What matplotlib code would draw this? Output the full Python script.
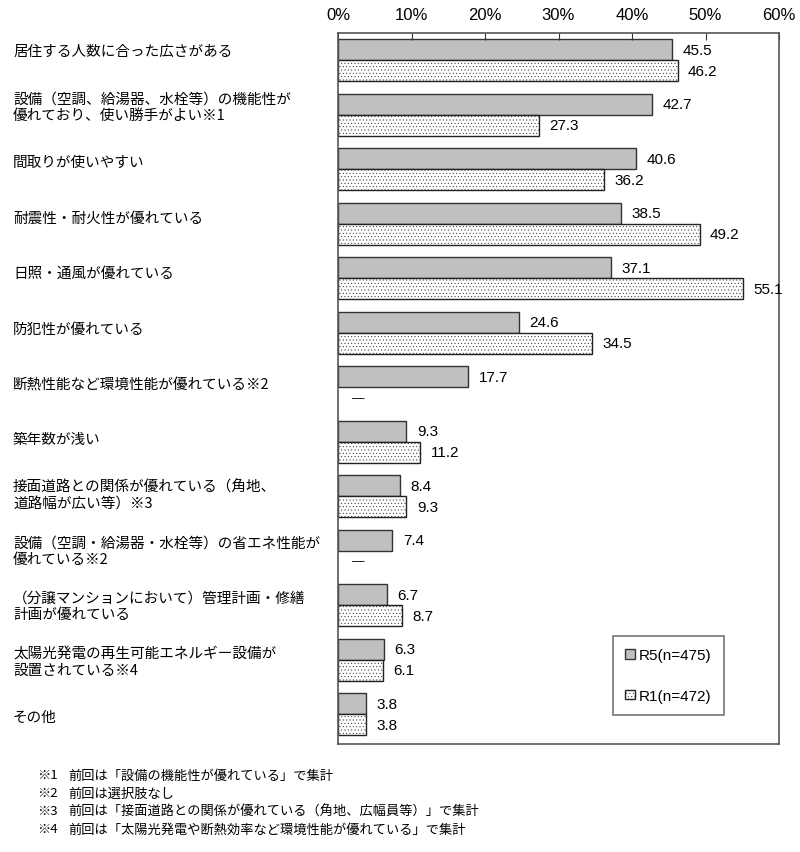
import numpy as np
import matplotlib
matplotlib.use("agg")
import matplotlib.pyplot as plt

plt.rcParams["font.family"] = ["Noto Sans CJK JP", "DejaVu Sans"]
plt.rcParams["hatch.linewidth"] = 0.3
plt.rcParams["hatch.color"] = "#222222"

categories = [
    "居住する人数に合った広さがある",
    "設備（空調、給湯器、水栓等）の機能性が\n優れており、使い勝手がよい※1",
    "間取りが使いやすい",
    "耐震性・耐火性が優れている",
    "日照・通風が優れている",
    "防犯性が優れている",
    "断熱性能など環境性能が優れている※2",
    "築年数が浅い",
    "接面道路との関係が優れている（角地、\n道路幅が広い等）※3",
    "設備（空調・給湯器・水栓等）の省エネ性能が\n優れている※2",
    "（分譲マンションにおいて）管理計画・修繕\n計画が優れている",
    "太陽光発電の再生可能エネルギー設備が\n設置されている※4",
    "その他",
]
r5 = [45.5, 42.7, 40.6, 38.5, 37.1, 24.6, 17.7, 9.3, 8.4, 7.4, 6.7, 6.3, 3.8]
r1 = [46.2, 27.3, 36.2, 49.2, 55.1, 34.5, None, 11.2, 9.3, None, 8.7, 6.1, 3.8]
series_names = ["R5(n=475)", "R1(n=472)"]
xticks = [0, 10, 20, 30, 40, 50, 60]

footnotes = [
    ("※1", "前回は「設備の機能性が優れている」で集計"),
    ("※2", "前回は選択肢なし"),
    ("※3", "前回は「接面道路との関係が優れている（角地、広幅員等）」で集計"),
    ("※4", "前回は「太陽光発電や断熱効率など環境性能が優れている」で集計"),
]

W, H = 800, 853
fig = plt.figure(figsize=(W / 100, H / 100), dpi=100)
ax = fig.add_axes([338 / W, 1 - 745 / H, (779 - 338) / W, (745 - 34) / H])

y = np.arange(len(categories))
bh = 0.385
r1_vals = [v if v is not None else 0 for v in r1]

bars5 = ax.barh(y - bh / 2, r5, height=bh, color="#c0c0c0", edgecolor="#333333",
                linewidth=1.0, label=series_names[0])
bars1 = ax.barh(y + bh / 2, r1_vals, height=bh, color="white", edgecolor="#222222",
                linewidth=1.0, hatch=".....", label=series_names[1])
for b, v in zip(bars1, r1):
    if v is None:
        b.set_visible(False)

num_font = "Liberation Sans"
for i, v in enumerate(r5):
    ax.annotate(f"{v:.1f}", (v, y[i] - bh / 2), xytext=(7.5, 0), textcoords="offset points",
                va="center", ha="left", fontsize=11, family=num_font)
for i, v in enumerate(r1):
    if v is None:
        ax.annotate("—", (0, y[i] + bh / 2), xytext=(10, 0), textcoords="offset points",
                    va="center", ha="left", fontsize=9, family=num_font)
    else:
        ax.annotate(f"{v:.1f}", (v, y[i] + bh / 2), xytext=(7.5, 0), textcoords="offset points",
                    va="center", ha="left", fontsize=11, family=num_font)

ax.set_xlim(0, 60)
ax.set_ylim(len(categories) - 0.45, -0.5)
ax.set_xticks(xticks)
ax.set_xticklabels([f"{t}%" for t in xticks], family=num_font, fontsize=12)
ax.xaxis.set_ticks_position("top")
ax.tick_params(axis="x", direction="in", length=5, pad=8, color="#333333")
ax.set_yticks([])
for s in ax.spines.values():
    s.set_color("#555555")
    s.set_linewidth(1.2)

# category labels on the left
for i, c in enumerate(categories):
    fig.text(13 / W, 1 - (52 + 55.5 * i) / H, c, ha="left", va="center",
             fontsize=10.5, linespacing=1.25)

leg = ax.legend(loc="upper left", bbox_to_anchor=(0.624, 0.152), borderaxespad=0,
                handlelength=0.6, handleheight=0.6, handletextpad=0.3,
                labelspacing=1.75, borderpad=0.8, fancybox=False, frameon=True,
                prop={"family": num_font, "size": 11})
leg.get_frame().set_edgecolor("#555555")
leg.get_frame().set_linewidth(1.2)

for i, (mark, note) in enumerate(footnotes):
    yy = 1 - (776 + 18 * i) / H
    fig.text(37 / W, yy, mark, ha="left", va="center", fontsize=9.5)
    fig.text(68 / W, yy, note, ha="left", va="center", fontsize=9.5)

fig.savefig("out.png", dpi=100)
